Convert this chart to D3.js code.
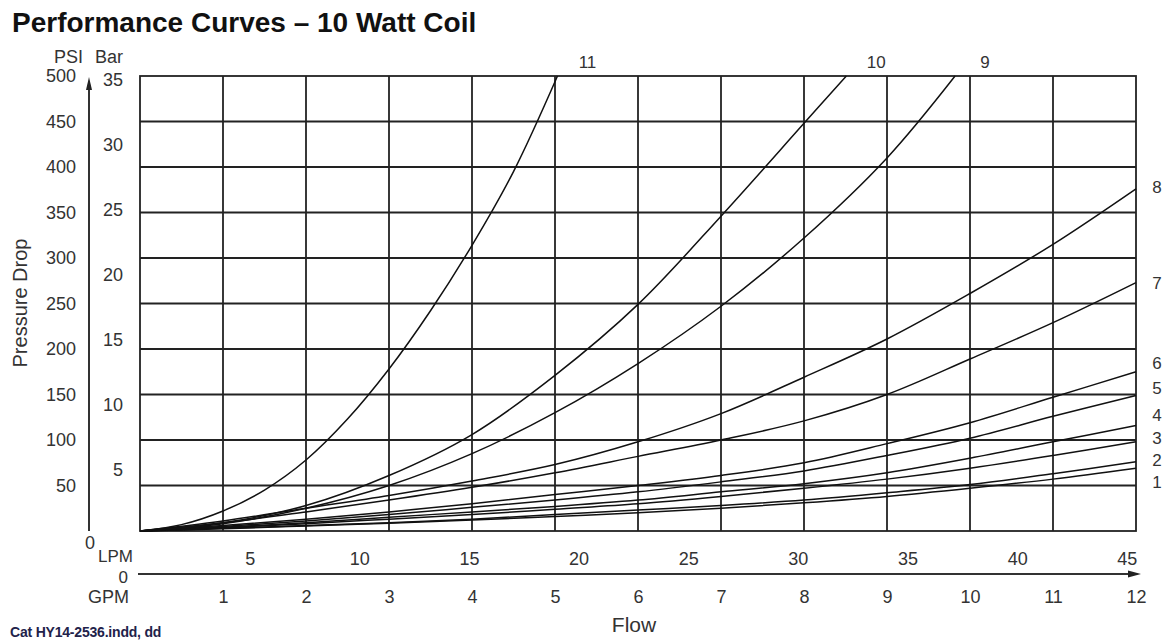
<!DOCTYPE html>
<html>
<head>
<meta charset="utf-8">
<style>
  body { margin: 0; background: #fff; }
  svg text { font-family: "Liberation Sans", Arial, Helvetica, sans-serif; fill: #333; }
  .grid line, .frame { stroke: #222; stroke-width: 1.8px; fill: none; }
  .curve { fill: none; stroke: #111; stroke-width: 1.5px; }
  .tick text { font-size: 18px; fill: #333; }
</style>
</head>
<body>
<svg id="chart" width="1168" height="642"></svg>
<script src="https://d3js.org/d3.v7.min.js"></script>
<script>
// flow in GPM, pressure drop in PSI
const gpmSteps = [0, 1, 2, 3, 4, 5, 6, 7, 8, 9, 10, 11, 12];
const psiCurve1 = [0, 2.5, 5.5, 8.5, 12, 16, 20, 25, 31, 38, 47, 57, 69];
const psiCurve2 = [0, 3, 6, 9, 13, 18, 23, 28, 34, 42, 51, 63, 76];
const psiCurve3 = [0, 3.5, 8, 13, 18, 24, 30, 38, 47, 57, 69, 83, 98];
const psiCurve4 = [0, 4, 9, 15, 21, 27, 34, 43, 52, 64, 80, 98, 116];
const psiCurve5 = [0, 5, 11, 18, 26, 34, 43, 54, 66, 83, 102, 126, 149];
const psiCurve6 = [0, 6, 13, 21, 30, 40, 50, 61, 75, 96, 119, 147, 175];
const psiCurve7 = [0, 9, 21, 34, 48, 64, 82, 100, 121, 150, 189, 229, 273];
const psiCurve8 = [0, 11, 25, 39, 55, 73, 98, 129, 169, 211, 261, 315, 376];
// curves 9-11 run off the top of the chart
const gpmCurve9 = [0, 1, 2, 3, 4, 5, 6, 7, 8, 9, 9.82];
const psiCurve9 = [0, 8, 25, 50, 85, 130, 184, 247, 322, 410, 500];
const gpmCurve10 = [0, 1, 2, 3, 4, 5, 6, 7, 8, 8.51];
const psiCurve10 = [0, 9, 28, 61, 106, 171, 249, 346, 448, 500];
const gpmCurve11 = [0, 0.5, 1, 1.5, 2, 2.5, 3, 3.5, 4, 4.5, 5.03];
const psiCurve11 = [0, 7, 22, 45, 78, 123, 178, 242, 314, 395, 500];

const psiTicks = [50, 100, 150, 200, 250, 300, 350, 400, 450, 500];
const barTicks = [5, 10, 15, 20, 25, 30, 35];
const gpmTicks = [1, 2, 3, 4, 5, 6, 7, 8, 9, 10, 11, 12];
const lpmTicks = [5, 10, 15, 20, 25, 30, 35, 40, 45];
const LPM_PER_GPM = 3.785;

const curves = [
  { name: "1", gpm: gpmSteps, psi: psiCurve1 },
  { name: "2", gpm: gpmSteps, psi: psiCurve2 },
  { name: "3", gpm: gpmSteps, psi: psiCurve3 },
  { name: "4", gpm: gpmSteps, psi: psiCurve4 },
  { name: "5", gpm: gpmSteps, psi: psiCurve5 },
  { name: "6", gpm: gpmSteps, psi: psiCurve6 },
  { name: "7", gpm: gpmSteps, psi: psiCurve7 },
  { name: "8", gpm: gpmSteps, psi: psiCurve8 },
  { name: "9", gpm: gpmCurve9, psi: psiCurve9 },
  { name: "10", gpm: gpmCurve10, psi: psiCurve10 },
  { name: "11", gpm: gpmCurve11, psi: psiCurve11 }
];

// label nudges so the bunched labels on the right don't overlap
const rightLabelDy = { "1": 14, "2": -2, "3": -4, "4": -10, "5": -7, "6": -9, "7": 0, "8": -2 };

const svg = d3.select("#chart");
const plotLeft = 140, plotRight = 1136, plotTop = 76, plotBottom = 531;

const x = d3.scaleLinear().domain([0, 12]).range([plotLeft, plotRight]);
const xLpm = d3.scaleLinear().domain([0, 12 * LPM_PER_GPM]).range([plotLeft, plotRight]);
const y = d3.scaleLinear().domain([0, 500]).range([plotBottom, plotTop]);
const yBar = d3.scaleLinear().domain([0, 35]).range([plotBottom, plotTop]);

// title + footer
svg.append("text").attr("x", 12).attr("y", 32)
  .style("font-size", "28px").style("font-weight", "bold").style("fill", "#111")
  .text("Performance Curves – 10 Watt Coil");

svg.append("text").attr("x", 10).attr("y", 637)
  .style("font-size", "14px").style("font-weight", "bold").style("fill", "#22224a")
  .style("letter-spacing", "-0.2px")
  .text("Cat HY14-2536.indd, dd");

// grid
const grid = svg.append("g").attr("class", "grid");
grid.selectAll("line.v").data(gpmTicks.slice(0, -1)).join("line")
  .attr("class", "v")
  .attr("x1", d => x(d)).attr("x2", d => x(d))
  .attr("y1", plotTop).attr("y2", plotBottom);
grid.selectAll("line.h").data(psiTicks.slice(0, -1)).join("line")
  .attr("class", "h")
  .attr("x1", plotLeft).attr("x2", plotRight)
  .attr("y1", d => y(d)).attr("y2", d => y(d));
svg.append("rect").attr("class", "frame")
  .attr("x", plotLeft).attr("y", plotTop)
  .attr("width", plotRight - plotLeft).attr("height", plotBottom - plotTop);

// curves
const line = d3.line()
  .x(d => x(d[0]))
  .y(d => y(d[1]))
  .curve(d3.curveCatmullRom.alpha(0.5));

svg.append("g").selectAll("path").data(curves).join("path")
  .attr("class", "curve")
  .attr("d", c => line(c.gpm.map((g, i) => [g, c.psi[i]])));

// curve numbers
svg.append("g").selectAll("text").data(curves).join("text")
  .style("font-size", "17px")
  .attr("text-anchor", "middle")
  .attr("dy", "0.35em")
  .attr("x", c => {
    const last = c.gpm[c.gpm.length - 1];
    return last < 12 ? x(last) + 30 : 1157;
  })
  .attr("y", c => {
    const last = c.gpm[c.gpm.length - 1];
    if (last < 12) return 62;
    return y(c.psi[c.psi.length - 1]) + rightLabelDy[c.name];
  })
  .text(c => c.name);

// PSI axis (its domain line is the arrow shaft)
const psiAxis = svg.append("g")
  .attr("transform", "translate(89,0)")
  .call(d3.axisLeft(y).tickValues(psiTicks).tickSize(0).tickSizeOuter(0).tickPadding(13));
psiAxis.select(".domain").attr("stroke", "#333").attr("stroke-width", 2)
  .attr("d", `M0,${plotBottom}V${plotTop + 12}`);
psiAxis.append("path").attr("d", `M0,${plotTop + 1}L-3,${plotTop + 14}L3,${plotTop + 14}Z`).attr("fill", "#222");
psiAxis.append("text").attr("x", 1).attr("y", 543).attr("dy", "0.35em")
  .attr("text-anchor", "middle").style("font-size", "18px").text("0");

// Bar labels
const barAxis = svg.append("g")
  .attr("transform", "translate(123,0)")
  .call(d3.axisLeft(yBar).tickValues(barTicks).tickSize(0).tickPadding(0));
barAxis.select(".domain").remove();
barAxis.selectAll(".tick text").attr("dy", "0.5em");

svg.append("text").attr("x", 83).attr("y", 63).attr("text-anchor", "end")
  .style("font-size", "18px").text("PSI");
svg.append("text").attr("x", 123).attr("y", 63).attr("text-anchor", "end")
  .style("font-size", "18px").text("Bar");

svg.append("text")
  .attr("transform", "translate(27,303) rotate(-90)")
  .attr("text-anchor", "middle")
  .style("font-size", "20px")
  .text("Pressure Drop");

// flow axes: GPM below the line, LPM above it
const flowY = 574;
const gpmAxis = svg.append("g")
  .attr("transform", `translate(0,${flowY})`)
  .call(d3.axisBottom(x).tickValues(gpmTicks).tickSize(0).tickSizeOuter(0));
gpmAxis.select(".domain").attr("stroke", "#333").attr("stroke-width", 2)
  .attr("d", `M${plotLeft - 2},0H${plotRight}`);
gpmAxis.selectAll(".tick text").attr("y", 23).attr("dy", "0.35em");
gpmAxis.append("path").attr("d", `M${plotRight + 5},0L${plotRight - 8},-3.5L${plotRight - 8},3.5Z`).attr("fill", "#222");

const lpmAxis = svg.append("g")
  .attr("transform", `translate(0,${flowY})`)
  .call(d3.axisTop(xLpm).tickValues(lpmTicks).tickSize(0));
lpmAxis.select(".domain").remove();
lpmAxis.selectAll(".tick text").attr("y", -15).attr("dy", "0.35em");

svg.append("text").attr("x", 98).attr("y", 562)
  .style("font-size", "17px").text("LPM");
svg.append("text").attr("x", 128).attr("y", 577).attr("dy", "0.35em")
  .attr("text-anchor", "end").style("font-size", "17px").text("0");
svg.append("text").attr("x", 88).attr("y", 603)
  .style("font-size", "18px").text("GPM");

svg.append("text").attr("x", 634).attr("y", 632).attr("text-anchor", "middle")
  .style("font-size", "21px").text("Flow");
</script>
</body>
</html>
